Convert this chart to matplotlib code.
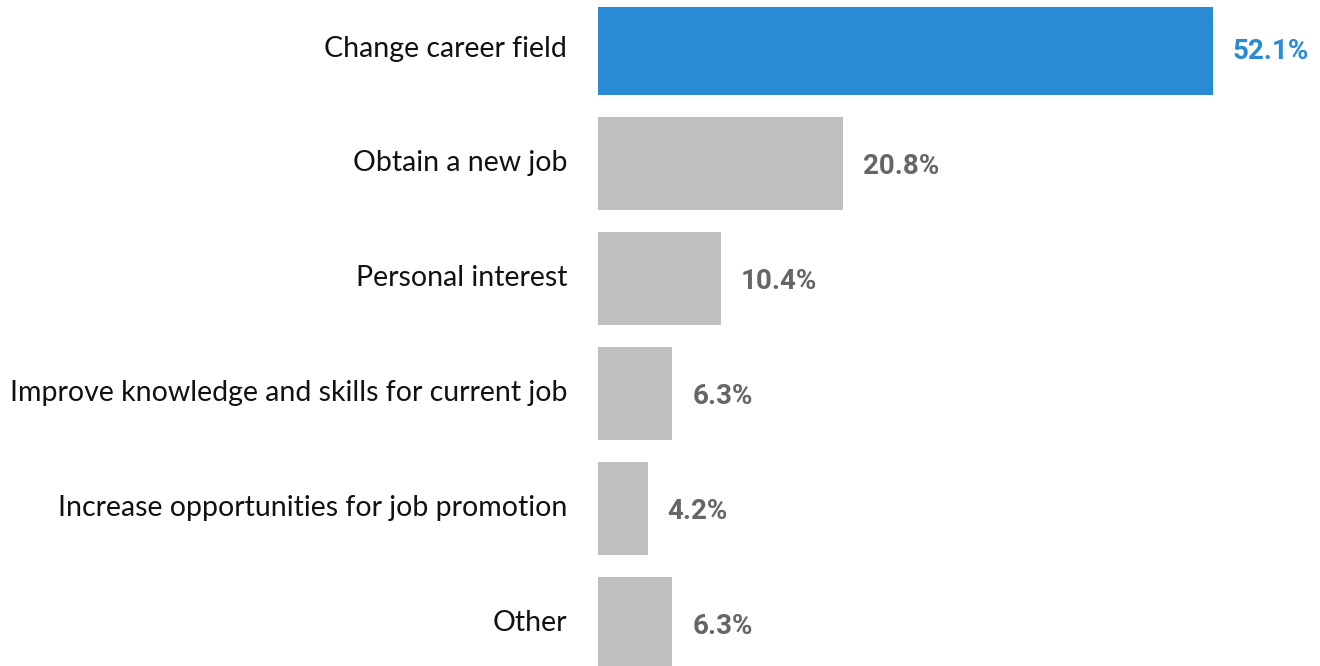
import matplotlib
matplotlib.use("Agg")
import matplotlib.pyplot as plt
from matplotlib import font_manager

categories = [
    "Change career field",
    "Obtain a new job",
    "Personal interest",
    "Improve knowledge and skills for current job",
    "Increase opportunities for job promotion",
    "Other",
]
values = [52.1, 20.8, 10.4, 6.3, 4.2, 6.3]
highlight = [True, False, False, False, False, False]

BLUE = "#288BD4"
GREY_BAR = "#BFBFBF"
GREY_TEXT = "#666666"

names = {f.name for f in font_manager.fontManager.ttflist}
value_font = "Liberation Sans Narrow" if "Liberation Sans Narrow" in names else "Roboto"
label_font = "Lato"

W, H = 1320, 666
fig = plt.figure(figsize=(W / 100, H / 100), dpi=100)
ax = fig.add_axes([598 / W, 0, 1 - 598 / W, 659 / H])

colors = [BLUE if h else GREY_BAR for h in highlight]
ypos = list(range(len(categories)))
ax.barh(ypos, values, height=0.81, color=colors)

ax.set_xlim(0, 61.2)
ax.set_ylim(5.370, -0.361)

for y, v, h in zip(ypos, values, highlight):
    ax.text(v + 1.7, y + 0.03, f"{v:.1f}%", va="center", ha="left",
            fontsize=20, fontweight="bold", family=value_font,
            color=BLUE if h else GREY_TEXT)

for y, c in zip(ypos, categories):
    ax.text(-2.6, y, c, va="center", ha="right", fontsize=20.5,
            family=label_font, color="#111111")

ax.set_xticks([])
ax.set_yticks([])
for s in ax.spines.values():
    s.set_visible(False)

fig.savefig("out.png", dpi=100)
